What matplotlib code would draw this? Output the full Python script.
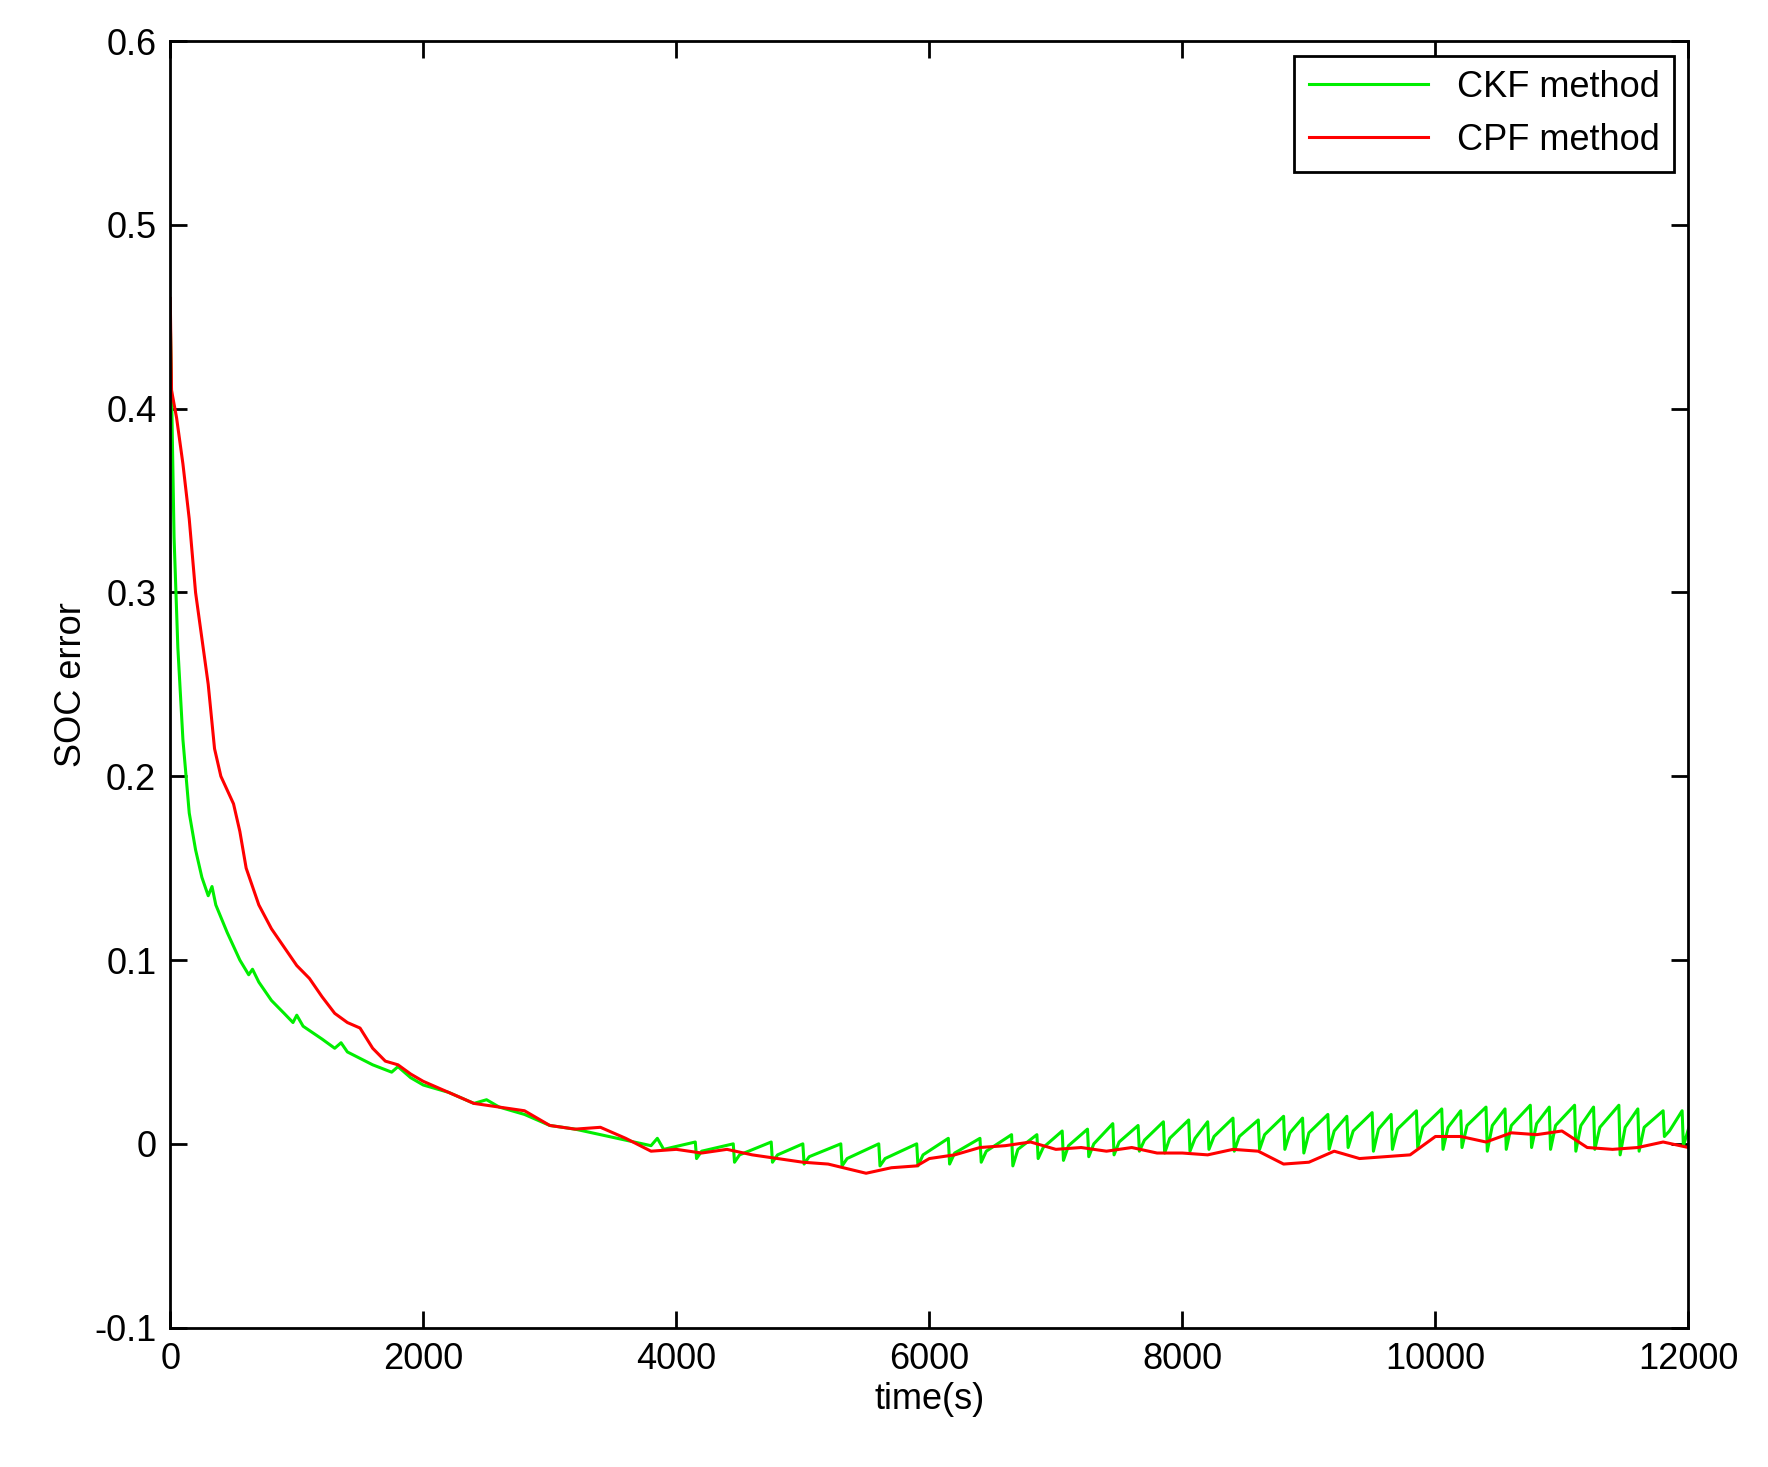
import matplotlib.pyplot as plt

# CKF method (green)
ckf_t = [0, 30, 60, 100, 150, 200, 250, 300, 330, 360, 450, 550, 620, 650, 700, 800, 900, 970, 1000,
         1050, 1200, 1300, 1350, 1400, 1600, 1750, 1800, 1900, 2000, 2200, 2400, 2500, 2600, 2800,
         3000, 3200, 3400, 3600, 3800, 3850, 3900, 4150, 4160, 4200, 4450, 4460, 4500, 4750, 4760,
         4800, 5000, 5010, 5050, 5300, 5310, 5350, 5600, 5610, 5650, 5900, 5910, 5950, 6150, 6160,
         6200, 6400, 6410, 6450, 6650, 6660, 6700, 6850, 6860, 6900, 7050, 7060, 7100, 7250, 7260,
         7300, 7450, 7460, 7500, 7650, 7660, 7700, 7850, 7860, 7900, 8050, 8060, 8100, 8200, 8210,
         8250, 8400, 8410, 8450, 8600, 8610, 8650, 8800, 8810, 8850, 8950, 8960, 9000, 9150, 9160,
         9200, 9300, 9310, 9350, 9500, 9510, 9550, 9650, 9660, 9700, 9850, 9860, 9900, 10050, 10060,
         10100, 10200, 10210, 10250, 10400, 10410, 10450, 10550, 10560, 10600, 10750, 10760, 10800,
         10900, 10910, 10950, 11100, 11110, 11150, 11250, 11260, 11300, 11450, 11460, 11500, 11600,
         11610, 11650, 11800, 11810, 11850, 11950, 11960, 12000]
ckf_v = [0.45, 0.33, 0.27, 0.22, 0.18, 0.16, 0.145, 0.135, 0.14, 0.13, 0.115, 0.10, 0.092, 0.095, 0.088,
         0.078, 0.071, 0.066, 0.070, 0.064, 0.057, 0.052, 0.055, 0.050, 0.043, 0.039, 0.042, 0.036,
         0.032, 0.028, 0.022, 0.024, 0.020, 0.016, 0.010, 0.008, 0.005, 0.002, -0.001, 0.003, -0.003,
         0.001, -0.008, -0.004, 0.000, -0.010, -0.006, 0.001, -0.010, -0.006, 0.000, -0.011, -0.007,
         0.000, -0.012, -0.008, 0.000, -0.012, -0.008, 0.000, -0.012, -0.006, 0.003, -0.011, -0.005,
         0.003, -0.010, -0.004, 0.005, -0.012, -0.003, 0.005, -0.008, -0.002, 0.007, -0.009, -0.001,
         0.008, -0.007, 0.000, 0.011, -0.006, 0.001, 0.010, -0.004, 0.002, 0.012, -0.005, 0.003,
         0.013, -0.004, 0.003, 0.012, -0.003, 0.004, 0.014, -0.004, 0.004, 0.013, -0.003, 0.005,
         0.015, -0.003, 0.006, 0.014, -0.005, 0.006, 0.016, -0.003, 0.007, 0.015, -0.002, 0.007,
         0.017, -0.004, 0.008, 0.016, -0.003, 0.008, 0.018, -0.002, 0.009, 0.019, -0.003, 0.009,
         0.018, -0.002, 0.010, 0.020, -0.004, 0.010, 0.019, -0.003, 0.010, 0.021, -0.002, 0.011,
         0.020, -0.003, 0.010, 0.021, -0.004, 0.010, 0.020, -0.003, 0.009, 0.021, -0.006, 0.009,
         0.019, -0.004, 0.009, 0.018, 0.004, 0.007, 0.018, -0.001, 0.008]

# CPF method (red)
cpf_t = [0, 10, 50, 100, 150, 200, 250, 300, 350, 400, 500, 550, 600, 700, 800, 900, 1000, 1100,
         1200, 1300, 1400, 1500, 1600, 1700, 1800, 1900, 2000, 2200, 2400, 2600, 2800, 3000, 3200,
         3400, 3600, 3800, 4000, 4200, 4400, 4600, 4800, 5000, 5200, 5500, 5700, 5900, 6000, 6200,
         6400, 6600, 6800, 7000, 7200, 7400, 7600, 7800, 8000, 8200, 8400, 8600, 8800, 9000, 9200,
         9400, 9600, 9800, 10000, 10200, 10400, 10600, 10800, 11000, 11200, 11400, 11600, 11800, 12000]
cpf_v = [0.46, 0.41, 0.395, 0.37, 0.34, 0.30, 0.275, 0.25, 0.215, 0.20, 0.185, 0.17, 0.15, 0.13,
         0.117, 0.107, 0.097, 0.09, 0.08, 0.071, 0.066, 0.063, 0.052, 0.045, 0.043, 0.038, 0.034,
         0.028, 0.022, 0.020, 0.018, 0.010, 0.008, 0.009, 0.003, -0.004, -0.003, -0.005, -0.003,
         -0.006, -0.008, -0.010, -0.011, -0.016, -0.013, -0.012, -0.008, -0.006, -0.002, -0.001,
         0.001, -0.003, -0.002, -0.004, -0.002, -0.005, -0.005, -0.006, -0.003, -0.004, -0.011,
         -0.010, -0.004, -0.008, -0.007, -0.006, 0.004, 0.004, 0.001, 0.006, 0.005, 0.007, -0.002,
         -0.003, -0.002, 0.001, -0.002]

plt.rcParams['font.family'] = ['Liberation Sans', 'DejaVu Sans']
fig = plt.figure(figsize=(17.68, 14.67), dpi=100)
ax = fig.add_axes([0.0963, 0.095, 0.8587, 0.877])

ax.plot(ckf_t, ckf_v, color='#00ee00', lw=2.2, label='CKF method')
ax.plot(cpf_t, cpf_v, color='#ff0000', lw=2.2, label='CPF method')

ax.set_xlim(0, 12000)
ax.set_ylim(-0.1, 0.6)
ax.set_xticks(range(0, 12001, 2000))
ax.set_yticks([-0.1, 0, 0.1, 0.2, 0.3, 0.4, 0.5, 0.6])
ax.set_yticklabels(['-0.1', '0', '0.1', '0.2', '0.3', '0.4', '0.5', '0.6'])
ax.tick_params(labelsize=26, direction='in', length=12, width=2, top=True, right=True, pad=10)
for s in ax.spines.values():
    s.set_linewidth(2)
ax.set_xlabel('time(s)', fontsize=26, labelpad=4)
ax.set_ylabel('SOC error', fontsize=26)

leg = ax.legend(loc='upper right', fontsize=26, fancybox=False, framealpha=1,
                edgecolor='black', handlelength=3.3, borderaxespad=0.4)
leg.get_frame().set_linewidth(2)

fig.savefig('out.png', dpi=100)
